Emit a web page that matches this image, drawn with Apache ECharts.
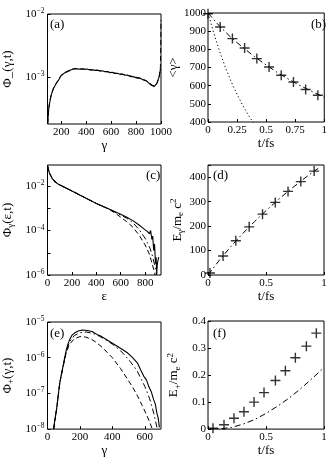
<!DOCTYPE html>
<html><head><meta charset="utf-8">
<script src="https://cdn.jsdelivr.net/npm/echarts@6/dist/echarts.min.js"></script>
<style>html,body{margin:0;padding:0;background:#fff}#c{width:330px;height:458px}</style>
</head><body><div id="c"></div>
<script>
// ---------- data ----------
// (a) Phi_-(gamma,t)
const aGammaSolid = [92,96,100,105,111,118,126,137,150,162,176,188,200,214,225,240,255,267,280,295,310,330,350,370,390,410,430,450,470,490,510,530,550,570,590,610,630,650,670,690,710,730,750,770,790,810,830,850,870,890,905,920,935,945,955,965,975,985,992,996];
const aPhiSolid = [1.8e-4,2.5e-4,3.1e-4,3.7e-4,4.2e-4,5.0e-4,5.6e-4,6.5e-4,7.2e-4,8.0e-4,8.7e-4,9.6e-4,1.05e-3,1.10e-3,1.15e-3,1.20e-3,1.22e-3,1.25e-3,1.30e-3,1.33e-3,1.36e-3,1.34e-3,1.33e-3,1.35e-3,1.32e-3,1.33e-3,1.29e-3,1.30e-3,1.27e-3,1.28e-3,1.24e-3,1.25e-3,1.21e-3,1.22e-3,1.17e-3,1.18e-3,1.13e-3,1.14e-3,1.10e-3,1.11e-3,1.06e-3,1.07e-3,1.02e-3,1.01e-3,0.99e-3,0.95e-3,0.96e-3,0.91e-3,0.88e-3,0.84e-3,0.80e-3,0.74e-3,0.71e-3,0.70e-3,0.72e-3,0.78e-3,0.88e-3,1.0e-3,1.2e-3,1.35e-3];
const aGammaDash = [92,100,110,125,140,160,180,200,230,260,290,320,360,400,450,500,550,600,650,700,750,800,850,900,930,950,970,985,995,998,1000];
const aPhiDash = [1.8e-4,3.1e-4,4.3e-4,5.6e-4,6.8e-4,7.9e-4,9.2e-4,1.06e-3,1.18e-3,1.27e-3,1.33e-3,1.34e-3,1.33e-3,1.32e-3,1.29e-3,1.26e-3,1.22e-3,1.18e-3,1.13e-3,1.09e-3,1.04e-3,0.99e-3,0.93e-3,0.83e-3,0.74e-3,0.71e-3,0.80e-3,1.0e-3,1.4e-3,3.0e-3,8.0e-3];
const aXTicks = [200,400,600,800,1000];

// (b) <gamma>
const bT = [0,0.105,0.21,0.315,0.42,0.525,0.63,0.735,0.84,0.945];
const bGammaMean = [996,923,859,807,749,703,657,620,579,547];
const bFitT = [0,0.1,0.2,0.3,0.4,0.5,0.6,0.7,0.8,0.9,1.0];
const bFit = [1000,927,864,810,760,714,671,633,598,566,536];
const bDotT = [0,0.05,0.1,0.15,0.2,0.25,0.3,0.35,0.4,0.45];
const bDot = [1000,888,788,700,621,552,490,435,386,343];
const bXTicks = [0,0.25,0.5,0.75,1];

// (c) Phi_gamma(eps,t)
const cEpsSolid = [0,5,13,25,40,60,90,120,200,300,400,500,600,650,700,750,780,800,820,835,845,855,862,870,877,885,890,895,900,905,912];
const cPhiSolid = [0.0851,0.0631,0.0427,0.0302,0.0214,0.0158,0.0120,0.0100,0.00603,0.00316,0.00166,9.5e-4,5.4e-4,4.0e-4,2.8e-4,1.78e-4,1.32e-4,1.07e-4,8.9e-5,7.1e-5,1.0e-4,4.0e-5,5.6e-5,1.26e-5,2.5e-5,3.2e-6,6.3e-6,1.1e-6,3.2e-6,4.5e-6,6.3e-6];
const cEpsDash = [0,13,40,90,200,300,400,500,550,600,650,700,750,800,830,850,870,882];
const cPhiDash = [0.0851,0.0427,0.0214,0.0120,0.00603,0.00316,0.00166,9.3e-4,6.3e-4,4.0e-4,2.5e-4,1.41e-4,6.3e-5,2.24e-5,1.0e-5,4.5e-6,1.78e-6,1.0e-6];
const cEpsDot = [0,13,40,90,200,300,400,500,600,650,700,750,800,840,860,880,895];
const cPhiDot = [0.0851,0.0427,0.0214,0.0120,0.00603,0.00316,0.00166,9.4e-4,5.0e-4,3.55e-4,2.24e-4,1.12e-4,4.5e-5,1.6e-5,7.1e-6,2.5e-6,1.0e-6];
const cXTicks = [0,200,400,600,800];

// (d) E_gamma / m_e c^2
const dT = [0.017,0.13,0.24,0.355,0.47,0.58,0.69,0.80,0.915];
const dE = [8,78,140,197,249,297,342,382,425];
const dFitT = [0,0.1,0.2,0.3,0.4,0.5,0.6,0.7,0.8,0.9,0.95];
const dFit = [0,62,118,170,218,263,306,346,384,420,436];
const dXTicks = [0,0.5,1];

// (e) Phi_+(gamma,t)
const eGammaSolid = [38,45,56,66,76,86,96,106,116,126,136,150,166,190,215,245,275,305,335,375,415,455,495,525,555,575,594,610,624,640,654,665,674,683,690];
const ePhiSolid = [1.0e-8,1.78e-8,3.6e-8,8.9e-8,2.0e-7,3.5e-7,5.8e-7,1.0e-6,1.66e-6,2.4e-6,3.16e-6,4.2e-6,4.9e-6,5.6e-6,6.0e-6,5.75e-6,5.4e-6,4.5e-6,3.9e-6,3.0e-6,2.3e-6,1.78e-6,1.35e-6,1.0e-6,7.1e-7,4.5e-7,3.0e-7,2.4e-7,1.58e-7,1.12e-7,6.8e-8,5.0e-8,2.9e-8,2.0e-8,1.12e-8];
const eGammaDash = [38,56,76,96,116,136,166,200,235,270,300,340,400,450,495,525,555,585,614,630,644];
const ePhiDash = [1.0e-8,3.6e-8,2.0e-7,5.5e-7,1.41e-6,2.4e-6,3.4e-6,3.9e-6,3.8e-6,3.3e-6,2.7e-6,1.9e-6,1.0e-6,5.0e-7,2.45e-7,1.5e-7,8.5e-8,4.5e-8,2.34e-8,1.58e-8,1.07e-8];
const eGammaDot = [38,56,76,96,116,136,166,200,240,280,320,360,400,450,500,550,600,630,655,675];
const ePhiDot = [1.0e-8,3.6e-8,2.0e-7,5.6e-7,1.58e-6,2.8e-6,4.2e-6,5.0e-6,5.25e-6,4.8e-6,4.0e-6,3.16e-6,2.4e-6,1.58e-6,8.9e-7,4.5e-7,1.58e-7,7.1e-8,2.8e-8,1.12e-8];
const eXTicks = [0,200,400,600];

// (f) E_+ / m_e c^2
const fT = [0.043,0.138,0.224,0.31,0.397,0.483,0.581,0.667,0.753,0.848,0.934];
const fE = [0.003,0.016,0.04,0.064,0.1,0.135,0.18,0.216,0.264,0.307,0.355];
const fFitT = [0,0.1,0.2,0.3,0.4,0.5,0.6,0.7,0.8,0.9,1.0];
const fFit = [0,0.001,0.006,0.018,0.035,0.058,0.085,0.115,0.15,0.188,0.228];
const fXTicks = [0,0.5,1];

const panelLabels = ['(a)','(b)','(c)','(d)','(e)','(f)'];

// ---------- chart ----------
const FONT = 'Liberation Serif';
const zip = (xs, ys) => xs.map((x, i) => [x, ys[i]]);
const DASH = [5, 3];
const DASHDOT = [6, 3, 1.5, 3];
const DOT = [1.2, 2.5];
const CROSS = 'path://M0,5L10,5M5,0L5,10';

const grids = [
  {left: 44, top: 14, width: 117, height: 110},
  {left: 208, top: 13, width: 118, height: 109},
  {left: 44, top: 165, width: 117, height: 110},
  {left: 208, top: 165, width: 116, height: 110},
  {left: 44, top: 322, width: 117, height: 109},
  {left: 208, top: 321, width: 116, height: 110}
].map(g => Object.assign({show: true, borderColor: '#000', borderWidth: 1, containLabel: false}, g));

const txt = {fontFamily: FONT, color: '#000', fontSize: 11};
const supRich = {
  b: {fontFamily: FONT, fontSize: 11, color: '#000', lineHeight: 14},
  s: {fontFamily: FONT, fontSize: 7.5, color: '#000', verticalAlign: 'top', lineHeight: 9}
};
const logFmt = (every) => (v) => {
  const e = Math.round(Math.log10(v));
  if (every === 2 && e % 2 !== 0) return '';
  return '{b|10}{s|\u2212' + Math.abs(e) + '}';
};
const nameRich = {
  n: {fontFamily: FONT, fontSize: 13, color: '#000', lineHeight: 16},
  sub: {fontFamily: FONT, fontSize: 9, color: '#000', verticalAlign: 'bottom', lineHeight: 9},
  sup: {fontFamily: FONT, fontSize: 9, color: '#000', verticalAlign: 'top', lineHeight: 9}
};

function xAx(i, min, max, ticks, name, fmt) {
  return {
    type: 'value', gridIndex: i, min: min, max: max,
    axisLine: {show: false},
    axisTick: {show: true, inside: true, length: 3, lineStyle: {color: '#000'}, customValues: ticks},
    axisLabel: Object.assign({margin: 3, customValues: ticks, formatter: fmt || (v => String(v))}, txt),
    splitLine: {show: false},
    name: name, nameLocation: 'middle', nameGap: 14,
    nameTextStyle: {fontFamily: FONT, fontSize: 13, color: '#000'}
  };
}
function yLin(i, min, max, interval, name, gap, fmt) {
  return {
    type: 'value', gridIndex: i, min: min, max: max, interval: interval,
    axisLine: {show: false},
    axisTick: {show: true, inside: true, length: 3, lineStyle: {color: '#000'}},
    axisLabel: Object.assign({margin: 2, formatter: fmt || (v => String(v))}, txt),
    splitLine: {show: false},
    name: name, nameLocation: 'middle', nameGap: gap,
    nameTextStyle: {fontFamily: FONT, fontSize: 13, color: '#000', rich: nameRich}
  };
}
function yLog(i, min, max, every, name, gap) {
  return {
    type: 'log', logBase: 10, gridIndex: i, min: min, max: max,
    axisLine: {show: false},
    axisTick: {show: true, inside: true, length: 3, lineStyle: {color: '#000'}},
    axisLabel: {margin: 3, formatter: logFmt(every), rich: supRich, showMinLabel: min === Math.pow(10, Math.round(Math.log10(min))), showMaxLabel: max === Math.pow(10, Math.round(Math.log10(max)))},
    splitLine: {show: false}, minorTick: {show: false},
    name: name, nameLocation: 'middle', nameGap: gap,
    nameTextStyle: {fontFamily: FONT, fontSize: 13, color: '#000', rich: nameRich}
  };
}
function ln(i, data, dash, w) {
  return {type: 'line', xAxisIndex: i, yAxisIndex: i, data: data, showSymbol: false, symbol: 'none',
    lineStyle: {color: '#000', width: w || 1, type: dash || 'solid'}, clip: true, silent: true, animation: false};
}
function crosses(i, data) {
  return {type: 'scatter', xAxisIndex: i, yAxisIndex: i, data: data, symbol: CROSS, symbolSize: 10,
    itemStyle: {color: 'rgba(0,0,0,0)', borderColor: '#000', borderWidth: 1.4}, silent: true, animation: false};
}

const decFmt = v => (v === 0 ? '0' : String(v));

const option = {
  animation: false,
  backgroundColor: '#fff',
  textStyle: {fontFamily: FONT},
  grid: grids,
  xAxis: [
    xAx(0, 90, 1000, aXTicks, 'γ'),
    xAx(1, 0, 1, bXTicks, 't/fs', decFmt),
    xAx(2, 0, 930, cXTicks, 'ε'),
    xAx(3, 0, 1, dXTicks, 't/fs', decFmt),
    xAx(4, 0, 700, eXTicks, 'γ'),
    xAx(5, 0, 1, fXTicks, 't/fs', decFmt)
  ],
  yAxis: [
    yLog(0, 1.78e-4, 1e-2, 1, '{n|Φ_(γ,t)}', 32),
    yLin(1, 400, 1000, 100, '{n|<γ>}', 26),
    yLog(2, 1e-6, 0.089, 2, '{n|Φ}{sub|γ}{n|(ε,t)}', 32),
    yLin(3, 0, 450, 100, '{n|E}{sub|γ}{n|/m}{sub|e}{n| c}{sup|2}', 22, v => (v > 400 ? '' : String(v))),
    yLog(4, 1e-8, 1e-5, 1, '{n|Φ}{sub|+}{n|(γ,t)}', 32),
    yLin(5, 0, 0.4, 0.1, '{n|E}{sub|+}{n|/m}{sub|e}{n| c}{sup|2}', 26, v => String(Math.round(v * 10) / 10))
  ],
  series: [
    ln(0, zip(aGammaDash, aPhiDash), DASH, 1),
    ln(0, zip(aGammaSolid, aPhiSolid), 'solid', 1.1),
    ln(1, zip(bFitT, bFit), DASHDOT, 1),
    ln(1, zip(bDotT, bDot), DOT, 1),
    crosses(1, zip(bT, bGammaMean)),
    ln(2, zip(cEpsDash, cPhiDash), DASH, 1),
    ln(2, zip(cEpsDot, cPhiDot), DASHDOT, 1),
    ln(2, zip(cEpsSolid, cPhiSolid), 'solid', 1.1),
    ln(3, zip(dFitT, dFit), DASHDOT, 1),
    crosses(3, zip(dT, dE)),
    ln(4, zip(eGammaDash, ePhiDash), DASH, 1),
    ln(4, zip(eGammaDot, ePhiDot), DASHDOT, 1),
    ln(4, zip(eGammaSolid, ePhiSolid), 'solid', 1.1),
    ln(5, zip(fFitT, fFit), DASHDOT, 1),
    crosses(5, zip(fT, fE))
  ],
  graphic: [
    {type: 'text', left: 50, top: 18, style: {text: panelLabels[0], font: '13px "Liberation Serif"', fill: '#000'}},
    {type: 'text', left: 311, top: 18, style: {text: panelLabels[1], font: '13px "Liberation Serif"', fill: '#000'}},
    {type: 'text', left: 146, top: 169, style: {text: panelLabels[2], font: '13px "Liberation Serif"', fill: '#000'}},
    {type: 'text', left: 213, top: 169, style: {text: panelLabels[3], font: '13px "Liberation Serif"', fill: '#000'}},
    {type: 'text', left: 50, top: 327, style: {text: panelLabels[4], font: '13px "Liberation Serif"', fill: '#000'}},
    {type: 'text', left: 213, top: 327, style: {text: panelLabels[5], font: '13px "Liberation Serif"', fill: '#000'}}
  ]
};

const chart = echarts.init(document.getElementById('c'), null, {renderer: 'canvas', width: 330, height: 458});
chart.setOption(option);
</script>
</body></html>
